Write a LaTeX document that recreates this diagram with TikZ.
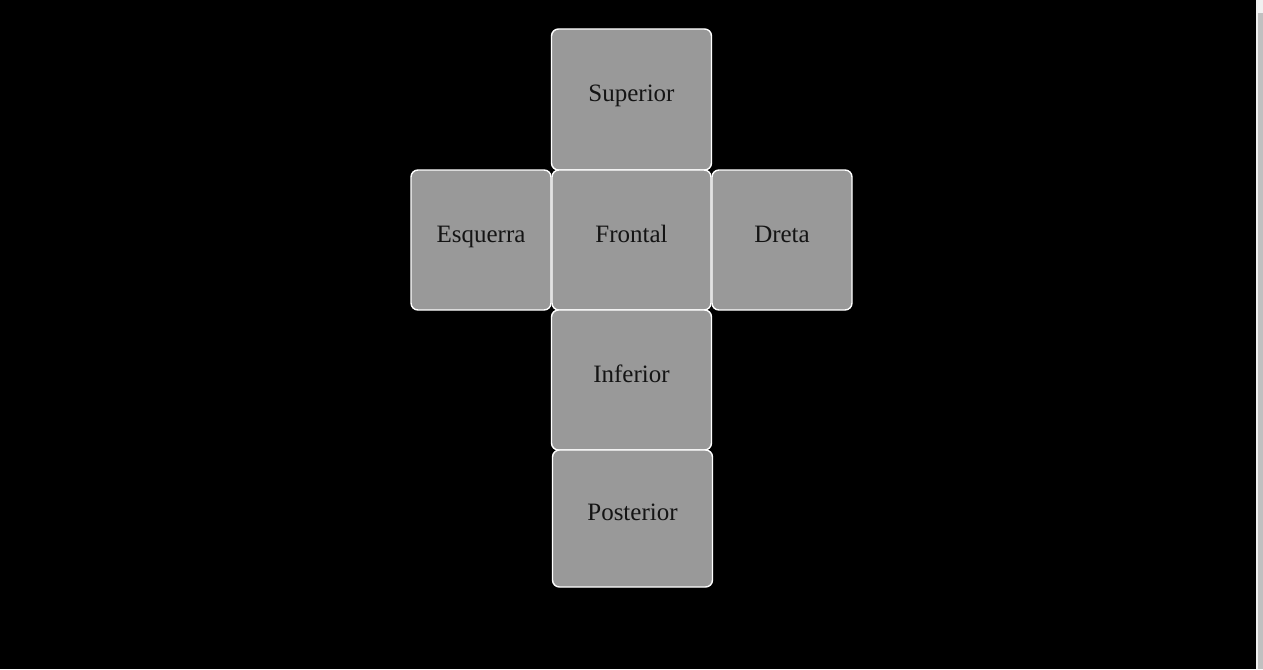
\documentclass[tikz,border=0pt]{standalone}
\usepackage{fontspec}
\setmainfont{Liberation Serif}
\usetikzlibrary{positioning}
\definecolor{facegray}{HTML}{999999}
\definecolor{facetext}{HTML}{141414}
\definecolor{bartrack}{HTML}{F0F0F0}
\definecolor{barthumb}{HTML}{C0C0C0}

\begin{document}
\begin{tikzpicture}[x=1pt, y=-1pt]
		\tikzstyle{Face}	= [rectangle, draw=white, fill=facegray, line width=1.4pt, rounded corners=7pt, text=facetext, font=\fontsize{25}{29}\selectfont, text height=14pt, text depth=10pt, inner sep=0pt]
		\tikzstyle{Wide}	= [minimum width=160pt, minimum height=140pt]
		\tikzstyle{Side}	= [minimum width=140pt, minimum height=140pt]

		% background and scrollbar
		\fill[black] (0, 0) rectangle (1263, 669);
		\fill[bartrack] (1256, 0) rectangle (1263, 669);
		\fill[barthumb] (1258, 13) rectangle (1263, 669);

		\node (f1) at (631.5, 99.5) [Face][Wide, minimum height=141pt]{Superior};
		\node (f2) at (481, 240) [Face][Side]{Esquerra};
		\node (f3) at (631.5, 240) [Face][Wide, minimum width=159pt]{Frontal};
		\node (f4) at (782, 240) [Face][Side]{Dreta};
		\node (f5) at (631.5, 380) [Face][Wide]{Inferior};
		\node (f6) at (632.5, 518.5) [Face][Wide, minimum height=137pt]{Posterior};
	\end{tikzpicture}
\end{document}
